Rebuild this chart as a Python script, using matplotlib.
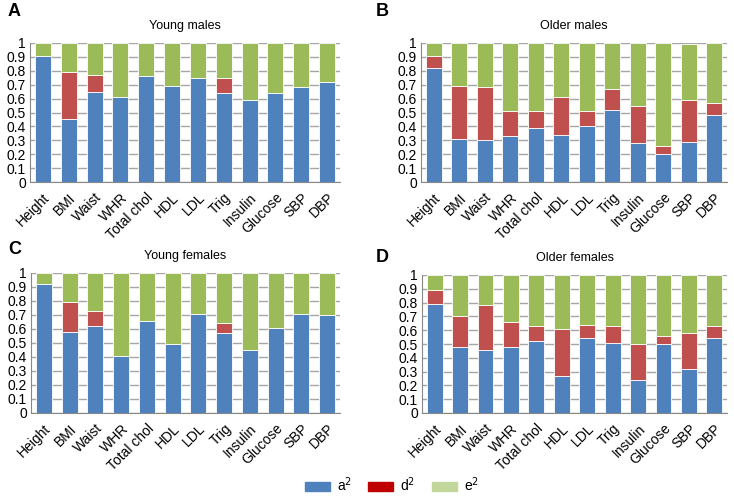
import matplotlib
matplotlib.use("Agg")
import matplotlib.pyplot as plt
import numpy as np
from matplotlib.patches import Patch

plt.rcParams["font.family"] = ["Liberation Sans", "DejaVu Sans"]

traits = ["Height", "BMI", "Waist", "WHR", "Total chol", "HDL", "LDL",
          "Trig", "Insulin", "Glucose", "SBP", "DBP"]

# proportion of variance: a2 (additive), d2 (dominance), e2 = remainder
young_males_a2 = [0.91, 0.45, 0.65, 0.61, 0.76, 0.69, 0.75, 0.64, 0.59, 0.64, 0.68, 0.72]
young_males_d2 = [0.00, 0.34, 0.12, 0.00, 0.00, 0.00, 0.00, 0.11, 0.00, 0.00, 0.00, 0.00]
young_males_e2 = [0.09, 0.21, 0.23, 0.39, 0.24, 0.31, 0.25, 0.25, 0.41, 0.36, 0.32, 0.28]

older_males_a2 = [0.82, 0.31, 0.30, 0.33, 0.39, 0.34, 0.40, 0.52, 0.28, 0.20, 0.29, 0.48]
older_males_d2 = [0.09, 0.38, 0.38, 0.18, 0.12, 0.27, 0.11, 0.15, 0.27, 0.06, 0.30, 0.09]
older_males_e2 = [0.09, 0.31, 0.32, 0.49, 0.49, 0.39, 0.49, 0.33, 0.45, 0.74, 0.40, 0.43]

young_females_a2 = [0.92, 0.58, 0.62, 0.41, 0.66, 0.49, 0.71, 0.57, 0.45, 0.61, 0.71, 0.70]
young_females_d2 = [0.00, 0.21, 0.11, 0.00, 0.00, 0.00, 0.00, 0.07, 0.00, 0.00, 0.00, 0.00]
young_females_e2 = [0.08, 0.21, 0.27, 0.59, 0.34, 0.51, 0.29, 0.36, 0.55, 0.39, 0.29, 0.30]

older_females_a2 = [0.79, 0.48, 0.46, 0.48, 0.52, 0.27, 0.54, 0.51, 0.24, 0.50, 0.32, 0.54]
older_females_d2 = [0.10, 0.22, 0.32, 0.18, 0.11, 0.34, 0.10, 0.12, 0.26, 0.06, 0.26, 0.09]
older_females_e2 = [0.11, 0.30, 0.22, 0.34, 0.37, 0.39, 0.36, 0.37, 0.50, 0.44, 0.42, 0.37]

panels = [
    ("A", "Young males", young_males_a2, young_males_d2, young_males_e2),
    ("B", "Older males", older_males_a2, older_males_d2, older_males_e2),
    ("C", "Young females", young_females_a2, young_females_d2, young_females_e2),
    ("D", "Older females", older_females_a2, older_females_d2, older_females_e2),
]

c_a = "#4F81BD"
c_d = "#C0504D"
c_e = "#9BBB59"

fig = plt.figure(figsize=(7.34, 5.01), dpi=100)
W, H = 734.0, 501.0
# axes boxes in pixels: left, top, right, bottom
boxes = [(30, 43, 340, 182), (421, 43, 727, 182),
         (31, 273, 340, 413), (422, 275, 727, 413)]
letter_pos = [(8, 12), (376, 12), (8, 250), (376, 258)]

x = np.arange(len(traits))
for (letter, title, a2, d2, e2), (l, t, r, b), (lx, ly) in zip(panels, boxes, letter_pos):
    ax = fig.add_axes([l / W, 1 - b / H, (r - l) / W, (b - t) / H])
    a2 = np.array(a2)
    d2 = np.array(d2)
    e2 = np.array(e2)
    kw = dict(width=0.62, edgecolor="white", linewidth=0.6, zorder=3)
    ax.bar(x, a2, color=c_a, **kw)
    ax.bar(x, d2, bottom=a2, color=c_d, **kw)
    ax.bar(x, e2, bottom=a2 + d2, color=c_e, **kw)
    ax.set_xlim(-0.5, len(traits) - 0.5)
    ax.set_ylim(0, 1)
    ax.set_yticks(np.arange(0, 1.01, 0.1))
    ax.set_yticklabels(["0"] + ["%.1f" % v for v in np.arange(0.1, 0.95, 0.1)] + ["1"])
    ax.yaxis.grid(True, color="#A6A6A6", linestyle="-", linewidth=1.0, zorder=0)
    ax.set_axisbelow(True)
    ax.set_xticks(x)
    ax.set_xticklabels(traits, rotation=45, ha="right", rotation_mode="anchor")
    ax.tick_params(axis="both", labelsize=10, length=0, pad=3)
    ax.tick_params(axis="x", pad=6)
    for s in ["top", "right"]:
        ax.spines[s].set_visible(False)
    for s in ["left", "bottom"]:
        ax.spines[s].set_color("#888888")
        ax.spines[s].set_linewidth(0.8)
    ax.set_title(title, fontsize=9, pad=10)
    fig.text(lx / W, 1 - ly / H, letter, fontsize=13, fontweight="bold",
             ha="left", va="center")

handles = [Patch(color=c_a, label="a$^2$"),
           Patch(color="#C00000", label="d$^2$"),
           Patch(color="#C3D69B", label="e$^2$")]
fig.legend(handles=handles, loc="center", bbox_to_anchor=(392 / W, 1 - 485 / H),
           ncol=3, frameon=False, fontsize=10, handlelength=1.8, handleheight=0.7,
           columnspacing=1.2, handletextpad=0.5)

fig.savefig("out.png", dpi=100)
